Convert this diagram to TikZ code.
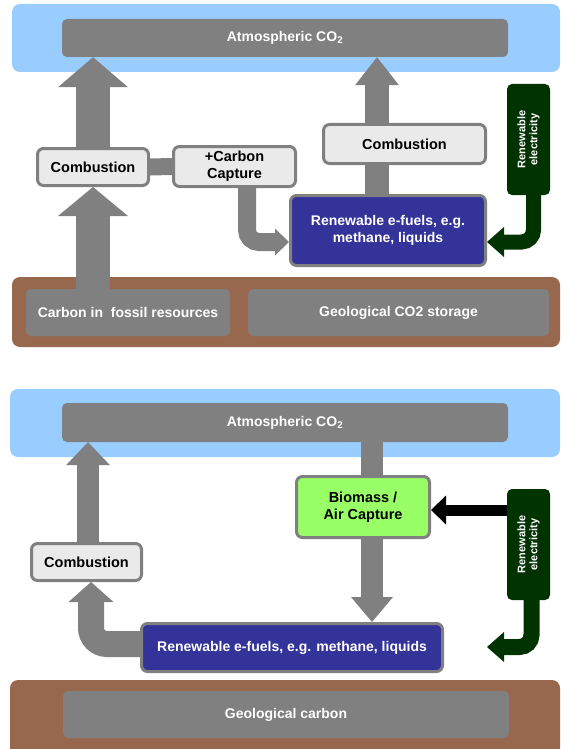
\documentclass[tikz,border=0pt]{standalone}
\usepackage{fontspec}
\setmainfont{Liberation Sans}
\usetikzlibrary{arrows.meta}

\definecolor{skyblue}{RGB}{153,204,255}
\definecolor{earth}{RGB}{152,104,78}
\definecolor{boxgrey}{RGB}{128,128,128}
\definecolor{lightbox}{RGB}{234,234,234}
\definecolor{fuelblue}{RGB}{51,51,153}
\definecolor{elecgreen}{RGB}{0,51,0}
\definecolor{biogreen}{RGB}{153,255,102}

\tikzset{
  layer/.style={rounded corners=5pt, fill=boxgrey, text=white, inner sep=0pt,
    font=\bfseries\fontsize{14}{16}\selectfont},
  stepbox/.style={rounded corners=6pt, draw=boxgrey, line width=3pt, fill=lightbox,
    align=center, inner sep=0pt, font=\bfseries\fontsize{14.5}{16.5}\selectfont},
  fuelbox/.style={stepbox, fill=fuelblue, text=white, font=\bfseries\fontsize{14}{16.5}\selectfont},
  elecbox/.style={rounded corners=5pt, fill=elecgreen, text=white, rotate=90,
    align=center, inner sep=0pt, font=\bfseries\fontsize{11}{12}\selectfont},
  flow/.style={draw=boxgrey, line width=#1},
}

\begin{document}
\begin{tikzpicture}[x=1pt, y=-1pt]
  \useasboundingbox (0,0) rectangle (563,749);

  % upper panel: fossil route
  \fill[skyblue, rounded corners=8pt] (12,4) rectangle (560,72); %sky
  \node[layer, minimum width=446pt, minimum height=38pt] (atm1) at (285,38) {Atmospheric CO\textsubscript{2}};
  \fill[earth, rounded corners=8pt] (12,277) rectangle (560,347); %ground
  \node[layer, minimum width=204pt, minimum height=47pt] (fossil1) at (128,312.5) {Carbon in\ \ fossil resources};
  \node[layer, minimum width=301pt, minimum height=47pt] (geo1) at (398.5,312.5) {Geological CO2 storage};

  \node[stepbox, minimum width=111pt, minimum height=37pt] (comb1) at (93,167) {Combustion};
  \node[stepbox, minimum width=122pt, minimum height=40pt] (capt1) at (234.5,166.5) {+Carbon\\Capture};
  \node[stepbox, minimum width=162pt, minimum height=39pt] (comb2) at (404.5,144) {Combustion};
  \node[fuelbox, minimum width=195pt, minimum height=70pt] (fuel1) at (388,230.5) {Renewable e-fuels, e.g.\\methane, liquids};
  \node[elecbox, minimum width=111pt, minimum height=43pt] (elec1) at (528.5,139.5) {Renewable\\electricity}; %rotated: west is the bottom

  \draw[flow=17pt] (comb1.east) -- (capt1.west);
  \draw[flow=34pt, -{Triangle[length=29pt,width=70pt,line width=0pt]}] (fossil1.north -| comb1.south) -- (comb1.south);
  \draw[flow=34pt, -{Triangle[length=30pt,width=70pt,line width=0pt]}] (comb1.north) -- (comb1.north |- atm1.south);
  \draw[flow=24pt] ([xshift=-11pt]fuel1.north) -- ([xshift=-11pt]fuel1.north |- comb2.south);
  \draw[flow=24pt, -{Triangle[length=28pt,width=44pt,line width=0pt]}] ([xshift=-11pt]fuel1.north |- comb2.north) -- ([xshift=-11pt]fuel1.north |- atm1.south);
  \draw[flow=18pt, rounded corners=12pt, -{Triangle[length=14pt,width=27pt,line width=0pt]}] ([xshift=12.5pt]capt1.south) |- ([yshift=-11.5pt]fuel1.west);
  \draw[draw=elecgreen, line width=15pt, rounded corners=12pt, -{Triangle[length=17pt,width=30pt,line width=0pt]}] ([xshift=5pt]elec1.west) |- ([yshift=-11.5pt]fuel1.east);

  % lower panel: e-fuel route
  \fill[skyblue, rounded corners=8pt] (10,389) rectangle (560,457); %sky
  \node[layer, minimum width=446pt, minimum height=39pt] (atm2) at (285,422.5) {Atmospheric CO\textsubscript{2}};
  \fill[earth, rounded corners=8pt] (10,680) rectangle (560,770); %ground
  \node[layer, minimum width=446pt, minimum height=47pt] (geo2) at (286,714.5) {Geological carbon};

  \node[stepbox, minimum width=110pt, minimum height=37pt] (comb3) at (86.5,562) {Combustion};
  \node[stepbox, fill=biogreen, minimum width=133pt, minimum height=61pt] (bio) at (363,507) {Biomass /\\Air Capture};
  \node[elecbox, minimum width=111pt, minimum height=43pt] (elec2) at (528.5,544.5) {Renewable\\electricity};
  \node[fuelbox, minimum width=301pt, minimum height=48pt] (fuel2) at (292,647.5) {Renewable e-fuels, e.g. methane, liquids};
  \coordinate (feed2) at (487,647);

  \draw[flow=22pt] ([xshift=9pt]bio.north) -- ([xshift=9pt]bio.north |- atm2.south);
  \draw[flow=22pt, -{Triangle[length=25pt,width=42pt,line width=0pt]}] ([xshift=9pt]bio.south) -- ([xshift=9pt]bio.south |- fuel2.north);
  \draw[draw=black, line width=11pt, -{Triangle[length=15pt,width=29pt,line width=0pt]}] ([yshift=-3pt]bio.east -| elec2.north) -- ([yshift=-3pt]bio.east);
  \draw[draw=elecgreen, line width=16pt, rounded corners=12pt, -{Triangle[length=17pt,width=30pt,line width=0pt]}] ([xshift=3pt]elec2.west) |- (feed2);
  \draw[flow=26pt, rounded corners=16pt, -{Triangle[length=20pt,width=45pt,line width=0pt]}] ([yshift=3.5pt]fuel2.west) -| ([xshift=4.5pt]comb3.south);
  \draw[flow=22pt, -{Triangle[length=23pt,width=44pt,line width=0pt]}] ([xshift=1.5pt]comb3.north) -- ([xshift=1.5pt]comb3.north |- atm2.south);
\end{tikzpicture}
\end{document}
